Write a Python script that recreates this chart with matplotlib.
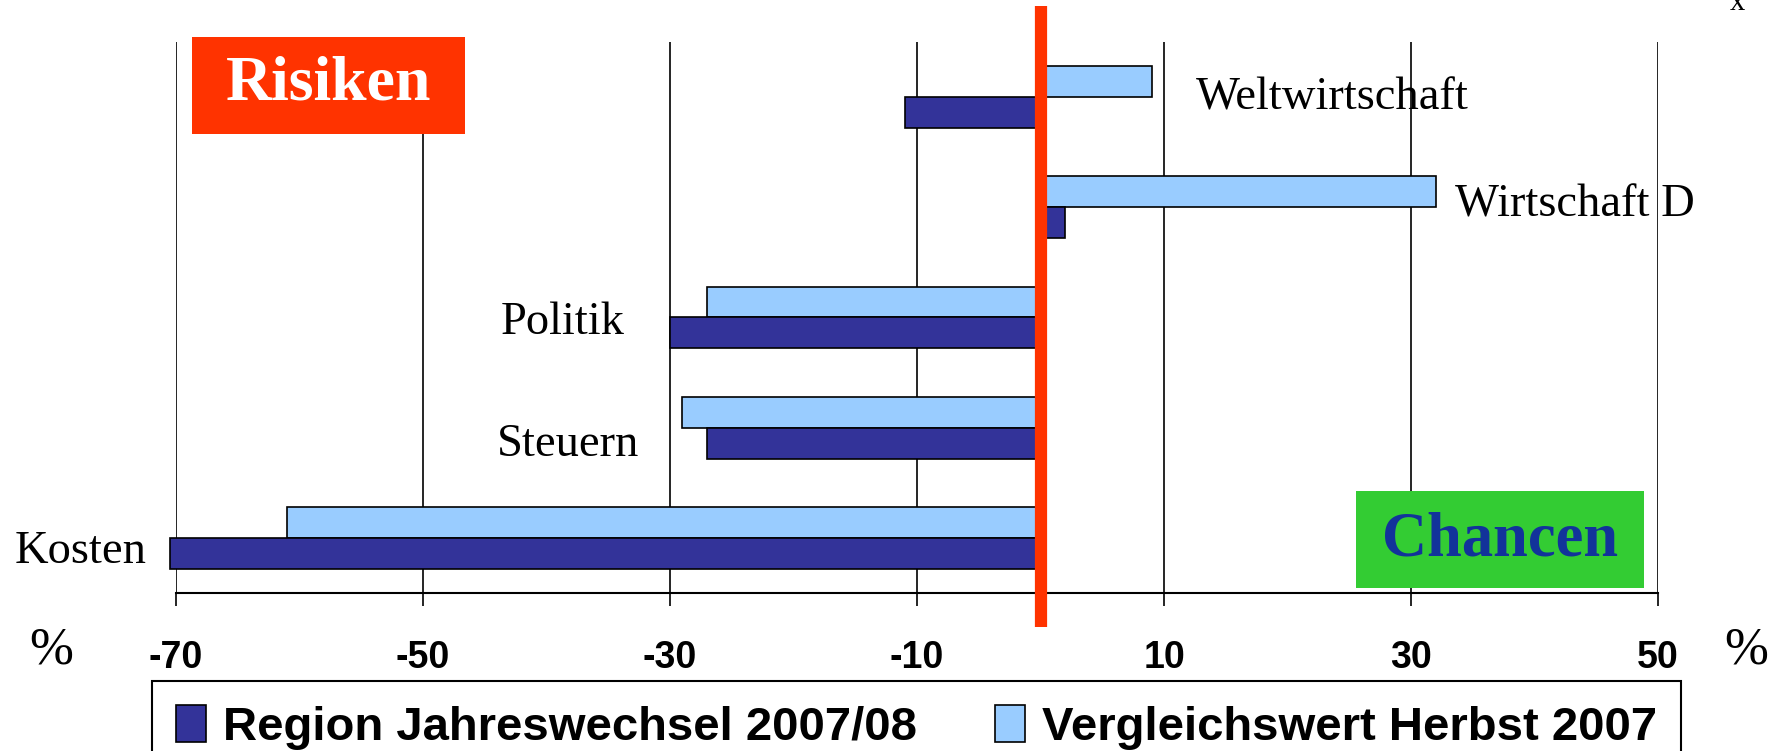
import numpy as np
import matplotlib
matplotlib.use("Agg")
import matplotlib.pyplot as plt
from matplotlib.patches import Rectangle

# ------------ data -------------
categories = ["Weltwirtschaft", "Wirtschaft D", "Politik", "Steuern", "Kosten"]
region_0708 = [-11, 2, -30, -27, -70.5]      # Region Jahreswechsel 2007/08
herbst_2007 = [9, 32, -27, -29, -61]         # Vergleichswert Herbst 2007
series_names = ["Region Jahreswechsel 2007/08", "Vergleichswert Herbst 2007"]
xticks = [-70, -50, -30, -10, 10, 30, 50]

# label anchors (x in data units, y offset from category, ha)
label_layout = [(12.6, 0.11, "left"), (33.6, 0.08, "left"), (-33.7, 0.15, "right"),
                (-32.5, 0.26, "right"), (-72.4, 0.23, "right")]

W, H = 1784, 751
dark = "#333399"
light = "#99CCFF"
red = "#FF3300"
green = "#33CC33"

fig = plt.figure(figsize=(W / 100, H / 100), dpi=100)
ax = fig.add_axes([176 / W, 1 - 593 / H, (1658 - 176) / W, (593 - 42) / H])

y = np.arange(len(categories))
bh = 0.28
ax.barh(y - bh / 2, herbst_2007, height=bh, color=light, edgecolor="black", linewidth=1.2,
        zorder=3, clip_on=False, label=series_names[1])
ax.barh(y + bh / 2, region_0708, height=bh, color=dark, edgecolor="black", linewidth=1.2,
        zorder=3, clip_on=False, label=series_names[0])

ax.set_xlim(-70, 50)
ax.set_ylim(len(categories) - 0.5, -0.5)
ax.set_xticks(xticks)
ax.set_xticklabels([str(t) for t in xticks], fontfamily="Liberation Sans", fontweight="bold", fontsize=27)
ax.set_yticks([])
ax.tick_params(axis="x", direction="out", length=9, width=1.2, pad=25, color="black")
for s in ["left", "top", "right"]:
    ax.spines[s].set_visible(False)
ax.spines["bottom"].set_linewidth(1.5)
for t in xticks:
    ax.axvline(t, color="black", linewidth=1.2, zorder=1)

# zero line, reaching beyond the plot area
ax.axvline(0, ymin=-0.062, ymax=1.065, color=red, linewidth=8.8, zorder=5, clip_on=False,
           solid_capstyle="butt")

for i, name in enumerate(categories):
    lx, dy, ha = label_layout[i]
    ax.text(lx, i + dy, name, ha=ha, va="baseline", fontfamily="Liberation Serif", fontsize=33.5)

# Risiken / Chancen boxes
fig.add_artist(Rectangle((192 / W, 1 - 134 / H), (465 - 192) / W, (134 - 37) / H,
                         transform=fig.transFigure, facecolor=red, edgecolor="none", zorder=6))
fig.text((192 + 465) / 2 / W, 1 - 85 / H, "Risiken", ha="center", va="center", color="white",
         fontfamily="Liberation Serif", fontweight="bold", fontsize=46, zorder=7)
fig.add_artist(Rectangle((1356 / W, 1 - 588 / H), (1644 - 1356) / W, (588 - 491) / H,
                         transform=fig.transFigure, facecolor=green, edgecolor="none", zorder=6))
fig.text((1356 + 1644) / 2 / W, 1 - 540 / H, "Chancen", ha="center", va="center", color="#12339A",
         fontfamily="Liberation Serif", fontweight="bold", fontsize=45, zorder=7)

# percent signs
fig.text(51 / W, 1 - 651 / H, "%", ha="center", va="center", fontfamily="Liberation Serif", fontsize=38)
fig.text(1746 / W, 1 - 651 / H, "%", ha="center", va="center", fontfamily="Liberation Serif", fontsize=38)
fig.text(1737 / W, 1 - 3 / H, "x", ha="center", va="center", fontfamily="Liberation Serif", fontsize=22)

# legend
h, l = ax.get_legend_handles_labels()
leg = fig.legend(h[::-1], l[::-1], loc="upper left", ncol=2, mode="expand",
                 bbox_to_anchor=(152 / W, 1 - 681 / H, (1681 - 152) / W, 0), borderaxespad=0,
                 prop={"family": "Liberation Sans", "weight": "bold", "size": 34},
                 handlelength=0.64, handleheight=0.85, handletextpad=0.36, columnspacing=1.3,
                 borderpad=0.5, fancybox=False, framealpha=1, edgecolor="black")
leg.get_frame().set_linewidth(1.5)

fig.savefig("out.png", dpi=100)
